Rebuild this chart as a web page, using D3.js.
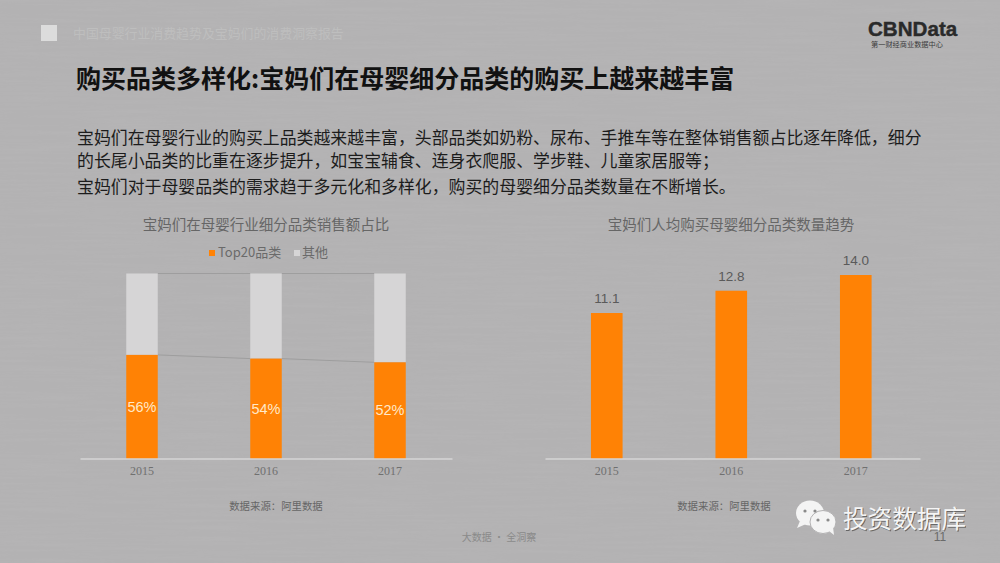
<!DOCTYPE html>
<html>
<head>
<meta charset="utf-8">
<script src="https://cdnjs.cloudflare.com/ajax/libs/d3/7.8.5/d3.min.js"></script>
<style>
html, body { margin: 0; padding: 0; background: #b5b5b5; overflow: hidden; }
svg { display: block; }
text { font-family: "Noto Sans CJK SC", sans-serif; }
</style>
</head>
<body>
<svg id="canvas" width="1000" height="563"></svg>
<script>
const years = ["2015", "2016", "2017"];
const top20Share = [56, 54, 52];
const otherShare = [44, 46, 48];
const avgCategories = [11.1, 12.8, 14.0];
const legendLabels = ["Top20品类", "其他"];

const titleText = "购买品类多样化:宝妈们在母婴细分品类的购买上越来越丰富";
const bodyLines = [
    "宝妈们在母婴行业的购买上品类越来越丰富，头部品类如奶粉、尿布、手推车等在整体销售额占比逐年降低，细分",
    "的长尾小品类的比重在逐步提升，如宝宝辅食、连身衣爬服、学步鞋、儿童家居服等；",
    "宝妈们对于母婴品类的需求趋于多元化和多样化，购买的母婴细分品类数量在不断增长。"
];

const orange = "#ff8205";
const lightGray = "#d6d5d6";
const svg = d3.select("#canvas");

// 背景 + 细微纹理
const filtro = svg.append("defs").append("filter").attr("id", "textura")
    .attr("x", 0).attr("y", 0).attr("width", "100%").attr("height", "100%");
filtro.append("feTurbulence").attr("type", "fractalNoise")
    .attr("baseFrequency", "0.012 0.35").attr("numOctaves", 2).attr("seed", 4);
filtro.append("feColorMatrix").attr("values", "0 0 0 0 1  0 0 0 0 1  0 0 0 0 1  0.5 0 0 0 -0.17");

svg.append("rect").attr("width", 1000).attr("height", 563).attr("fill", "#b3b2b3");
svg.append("rect").attr("width", 1000).attr("height", 563).attr("filter", "url(#textura)").attr("opacity", 0.12);

// Encabezado
svg.append("rect").attr("x", 41).attr("y", 25).attr("width", 16).attr("height", 16).attr("fill", "#dcdcdc");
svg.append("text").attr("x", 73).attr("y", 38).attr("font-size", 12.9).attr("fill", "#bebebe")
    .text("中国母婴行业消费趋势及宝妈们的消费洞察报告");

// Logo
svg.append("text").attr("x", 868).attr("y", 36).attr("font-size", 20.6).attr("font-weight", 700)
    .style("font-family", "'Liberation Sans', sans-serif").attr("fill", "#2a2a2a")
    .attr("stroke", "#2a2a2a").attr("stroke-width", 0.4).text("CBNData");
svg.append("text").attr("x", 871).attr("y", 47).attr("font-size", 7.2).attr("fill", "#3c3c3c")
    .text("第一财经商业数据中心");

// Título y texto
svg.append("text").attr("x", 76).attr("y", 88).attr("font-size", 25).attr("font-weight", 700)
    .attr("fill", "#111").text(titleText);

svg.selectAll("text.cuerpo").data(bodyLines).join("text")
    .attr("class", "cuerpo")
    .attr("x", 77)
    .attr("y", (d, i) => [144, 167, 193][i])
    .attr("font-size", 16.9)
    .attr("fill", "#1c1c1c")
    .text(d => d);

const baseY = 458.5;

// Grafico izquierdo: apilado 100%
const xLeft = d3.scaleBand().domain(years).range([80, 452]).paddingInner(0.746).paddingOuter(0.373);
const yLeft = d3.scaleLinear().domain([0, 100]).range([baseY, 273.5]);

const chartLeft = svg.append("g");

chartLeft.append("text").attr("x", 266).attr("y", 230).attr("text-anchor", "middle")
    .attr("font-size", 14.5).attr("fill", "#666").text("宝妈们在母婴行业细分品类销售额占比");

// leyenda
chartLeft.append("rect").attr("x", 209).attr("y", 250).attr("width", 6).attr("height", 6).attr("fill", orange);
chartLeft.append("text").attr("x", 218).attr("y", 257).attr("font-size", 13).attr("fill", "#6a6a6a").text(legendLabels[0]);
chartLeft.append("rect").attr("x", 294).attr("y", 250).attr("width", 6).attr("height", 6).attr("fill", lightGray);
chartLeft.append("text").attr("x", 302).attr("y", 257).attr("font-size", 13).attr("fill", "#6a6a6a").text(legendLabels[1]);

// lineas de serie entre barras
for (let i = 0; i < years.length - 1; i++) {
    const x1 = xLeft(years[i]) + xLeft.bandwidth();
    const x2 = xLeft(years[i + 1]);
    chartLeft.append("line").attr("x1", x1).attr("x2", x2)
        .attr("y1", yLeft(top20Share[i])).attr("y2", yLeft(top20Share[i + 1]))
        .attr("stroke", "#989898").attr("stroke-width", 0.8);
    chartLeft.append("line").attr("x1", x1).attr("x2", x2)
        .attr("y1", yLeft(top20Share[i] + otherShare[i])).attr("y2", yLeft(top20Share[i + 1] + otherShare[i + 1]))
        .attr("stroke", "#989898").attr("stroke-width", 0.8);
}

chartLeft.selectAll("rect.otros").data(years).join("rect")
    .attr("class", "otros")
    .attr("x", d => xLeft(d))
    .attr("y", (d, i) => yLeft(top20Share[i] + otherShare[i]))
    .attr("width", xLeft.bandwidth())
    .attr("height", (d, i) => yLeft(top20Share[i]) - yLeft(top20Share[i] + otherShare[i]))
    .attr("fill", lightGray);

chartLeft.selectAll("rect.top20").data(years).join("rect")
    .attr("class", "top20")
    .attr("x", d => xLeft(d))
    .attr("y", (d, i) => yLeft(top20Share[i]))
    .attr("width", xLeft.bandwidth())
    .attr("height", (d, i) => baseY - yLeft(top20Share[i]))
    .attr("fill", orange);

chartLeft.selectAll("text.pct").data(years).join("text")
    .attr("class", "pct")
    .attr("x", d => xLeft(d) + xLeft.bandwidth() / 2)
    .attr("y", (d, i) => yLeft(top20Share[i] / 2) + 5)
    .attr("text-anchor", "middle")
    .attr("font-size", 14.5)
    .style("font-family", "'Liberation Sans', sans-serif")
    .attr("fill", "#ffe9c8")
    .text((d, i) => top20Share[i] + "%");

// Grafico derecho
const xRight = d3.scaleBand().domain(years).range([545, 920]).paddingInner(0.746).paddingOuter(0.379).align(0.487);
const yRight = d3.scaleLinear().domain([0, 14]).range([baseY, 275]);

const chartRight = svg.append("g");

chartRight.append("text").attr("x", 731).attr("y", 230).attr("text-anchor", "middle")
    .attr("font-size", 14.5).attr("fill", "#666").text("宝妈们人均购买母婴细分品类数量趋势");

chartRight.selectAll("rect.barra").data(years).join("rect")
    .attr("class", "barra")
    .attr("x", d => xRight(d))
    .attr("y", (d, i) => yRight(avgCategories[i]))
    .attr("width", xRight.bandwidth())
    .attr("height", (d, i) => baseY - yRight(avgCategories[i]))
    .attr("fill", orange);

chartRight.selectAll("text.valor").data(years).join("text")
    .attr("class", "valor")
    .attr("x", d => xRight(d) + xRight.bandwidth() / 2)
    .attr("y", (d, i) => yRight(avgCategories[i]) - 10)
    .attr("text-anchor", "middle")
    .attr("font-size", 13.5)
    .style("font-family", "'Liberation Sans', sans-serif")
    .attr("fill", "#5a5a5a")
    .text((d, i) => avgCategories[i].toFixed(1));

// Ejes
[[xLeft, chartLeft], [xRight, chartRight]].forEach(([escala, g]) => {
    const eje = g.append("g").attr("transform", `translate(0,${baseY})`)
        .call(d3.axisBottom(escala).tickSize(0).tickPadding(8));
    eje.select(".domain").attr("stroke", "#e6e6e6").attr("stroke-width", 1);
    eje.selectAll("text").attr("font-size", 12).attr("fill", "#707070")
        .style("font-family", "'Liberation Serif', serif");
});

// Fuente
[276, 724].forEach(x => {
    svg.append("text").attr("x", x).attr("y", 510).attr("text-anchor", "middle")
        .attr("font-size", 10.4).attr("fill", "#666").text("数据来源：阿里数据");
});

// Pie
svg.append("text").attr("x", 499).attr("y", 541).attr("text-anchor", "middle")
    .attr("font-size", 10).attr("fill", "#8a8a8a").text("大数据 · 全洞察");
svg.append("text").attr("x", 940).attr("y", 541).attr("text-anchor", "middle")
    .attr("font-size", 12).style("font-family", "'Liberation Sans', sans-serif")
    .attr("fill", "#6a6a6a").text("11");

// Marca de agua del canal
const burbuja = svg.append("g").attr("fill", "#f4f4f4");
burbuja.append("ellipse").attr("cx", 810).attr("cy", 513).attr("rx", 14).attr("ry", 12.5);
burbuja.append("path").attr("d", "M800 521 L797 528 L806 524 Z");
burbuja.append("ellipse").attr("cx", 823).attr("cy", 522).attr("rx", 13).attr("ry", 11.5).attr("stroke", "#b3b2b3").attr("stroke-width", 1);
burbuja.append("path").attr("d", "M829 531 L834 535 L833 527 Z");
[[805, 511], [815, 511], [818, 520], [828, 520]].forEach(p => {
    svg.append("circle").attr("cx", p[0]).attr("cy", p[1]).attr("r", 1.6).attr("fill", "#8a8a8a");
});
svg.append("text").attr("x", 843).attr("y", 528).attr("font-size", 24.6).attr("fill", "#555").attr("opacity", 0.8)
    .attr("transform", "translate(1,1)").text("投资数据库");
svg.append("text").attr("x", 843).attr("y", 528).attr("font-size", 24.6).attr("fill", "#f5f5f5").text("投资数据库");
</script>
</body>
</html>
